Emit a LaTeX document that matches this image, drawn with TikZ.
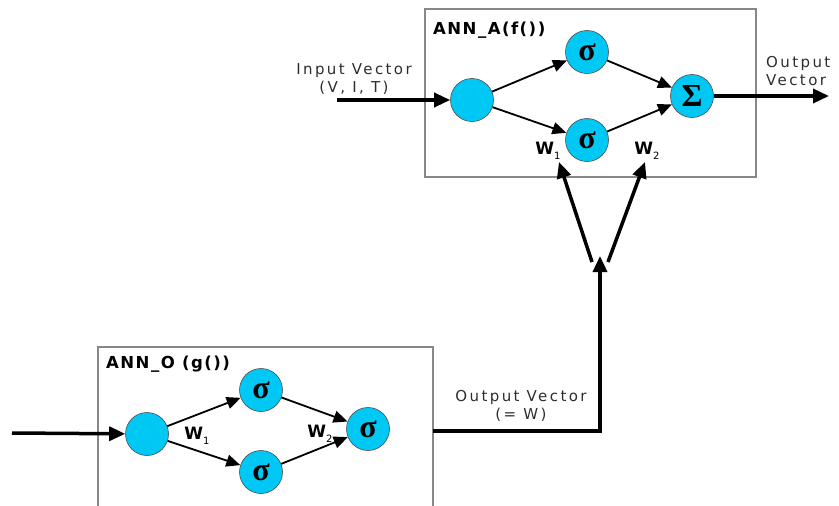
\documentclass[tikz,border=0pt]{standalone}
\usepackage{fontspec}
\setmainfont{DejaVu Sans}
\newfontfamily\labfont[LetterSpace=16]{DejaVu Sans}
\newfontfamily\titfont[LetterSpace=9]{DejaVu Sans}
\newfontfamily\grkfont{Liberation Serif}
\usetikzlibrary{arrows.meta}
\definecolor{nodecyan}{RGB}{0,200,245}
\definecolor{boxgray}{RGB}{135,135,135}
\definecolor{labgray}{RGB}{45,45,45}
\begin{document}
\begin{tikzpicture}[x=1pt,y=-1pt,
  neuron/.style={circle, fill=nodecyan, draw=black!70, line width=0.6pt,
    minimum size=43pt, inner sep=0pt,
    font=\grkfont\bfseries\fontsize{32}{32}\selectfont},
  netbox/.style={draw=boxgray, line width=1.4pt},
  thinarr/.style={line width=1.8pt, -{Triangle[length=14pt,width=12pt]}},
  thickarr/.style={line width=3.5pt, -{Triangle[length=16pt,width=14pt]}},
  thickline/.style={line width=3.5pt},
  boxtitle/.style={font=\titfont\bfseries\fontsize{16.5}{16.5}\selectfont, anchor=west, inner sep=0pt},
  iolabel/.style={font=\labfont\fontsize{15}{17.5}\selectfont, text=labgray, inner sep=0pt, align=center},
  wlabel/.style={font=\bfseries\fontsize{17}{17}\selectfont, inner sep=0pt},
]
\useasboundingbox (0,0) rectangle (839,506);

% ---------- top network ANN_A ----------
\draw[netbox] (425,9) rectangle (756,177);
\node[boxtitle] (titA) at (433,30) {ANN\_A(f())};

\node[neuron] (inA) at (472,100) {};
\node[neuron] (s1A) at (587,52) {σ};
\node[neuron] (s2A) at (587,140) {σ};
\node[neuron] (sumA) at (692,96) {Σ};

\draw[thinarr] (inA) -- (s1A);
\draw[thinarr] (inA) -- (s2A);
\draw[thinarr] (s1A) -- (sumA);
\draw[thinarr] (s2A) -- (sumA);

\node[wlabel] (w1A) at (548,151) {W{\mdseries\fontsize{10}{10}\selectfont\raisebox{-5pt}{1}}};
\node[wlabel] (w2A) at (647,151) {W{\mdseries\fontsize{10}{10}\selectfont\raisebox{-5pt}{2}}};

\coordinate (inAstart) at (337,100);
\draw[thickarr] (inAstart) -- (inA);
\node[iolabel] (inlab) at (354,79) {Input Vector\\(V, I, T)};

\coordinate (outAend) at (829,96);
\draw[thickarr] (sumA) -- (outAend);
\node[iolabel, align=left, anchor=west] (outlabA) at (766,71) {Output\\Vector};

% ---------- bottom network ANN_O ----------
\draw[netbox] (98,510) -- (98,347) -- (433,347) -- (433,510);
\node[boxtitle] (titO) at (106,364) {ANN\_O (g())};

\node[neuron] (inO) at (147,434) {};
\node[neuron] (s1O) at (261,390) {σ};
\node[neuron] (s2O) at (261,472) {σ};
\node[neuron] (outO) at (368,429) {σ};

\draw[thinarr] (inO) -- (s1O);
\draw[thinarr] (inO) -- (s2O);
\draw[thinarr] (s1O) -- (outO);
\draw[thinarr] (s2O) -- (outO);

\node[wlabel] (w1O) at (197,436) {W{\mdseries\fontsize{10}{10}\selectfont\raisebox{-5pt}{1}}};
\node[wlabel] (w2O) at (320,434) {W{\mdseries\fontsize{10}{10}\selectfont\raisebox{-5pt}{2}}};

\coordinate (inOstart) at (12,433);
\draw[thickarr] (inOstart) -- (inO);

% ---------- feedback of W ----------
\coordinate (oeast) at (433,431);
\coordinate (bend) at (600,431);
\coordinate (vtip) at (600,256);
\draw[thickline, line join=miter] (oeast) -- (bend) -- (600,275);
\draw[thickarr] (600,300) -- (vtip);
\node[iolabel] (outlabO) at (521,406) {Output Vector\\(= W)};

\coordinate (jl) at (592,262);
\coordinate (jr) at (608,262);
\coordinate (tl) at (559,162);
\coordinate (tr) at (645,162);
\draw[thickarr] (jl) -- (tl);
\draw[thickarr] (jr) -- (tr);
\end{tikzpicture}
\end{document}
